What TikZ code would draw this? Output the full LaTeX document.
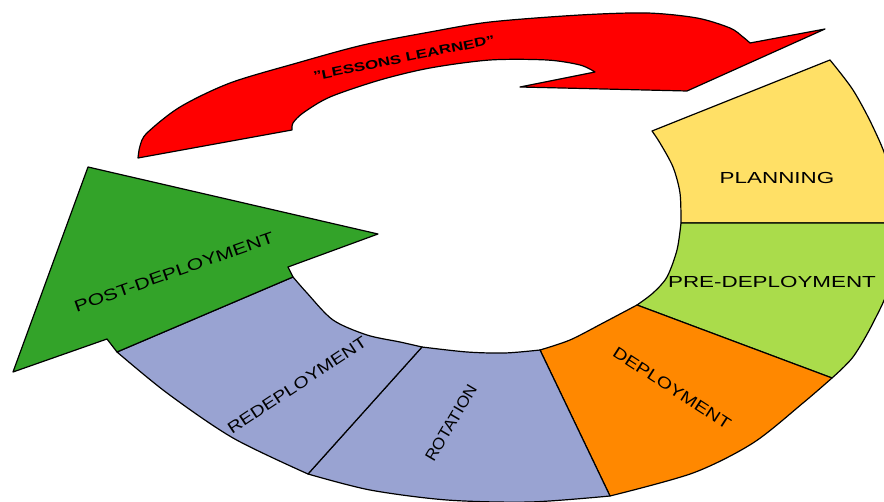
\documentclass[tikz,border=0pt]{standalone}
\usepackage{fontspec}
\setmainfont{Liberation Sans}

\definecolor{plancol}{RGB}{255,224,102}
\definecolor{precol}{RGB}{170,220,75}
\definecolor{depcol}{RGB}{255,136,0}
\definecolor{rotcol}{RGB}{153,163,210}
\definecolor{postcol}{RGB}{51,163,41}
\definecolor{lesscol}{RGB}{255,0,0}

\begin{document}
\begin{tikzpicture}[x=1pt, y=-1pt,
    seg/.style={draw=black, line width=1.2pt, line join=round},
    lbl/.style={font=\fontsize{16}{18}\selectfont, inner sep=0pt}]

\useasboundingbox (0,0) rectangle (884,502);
\clip (0,0) rectangle (884,502);

% lessons learned arrow
\path[seg, fill=lesscol] plot[smooth] coordinates {(138,158) (140,146) (147,133) (180,107) (230,83) (297,63) (363,45) (430,32) (490,22) (580,15) (647,13) (697,18) (730,28) (743,37) (750,43)}
  -- (825,29) -- (687,91) -- (520,87) -- (595,72)
  -- plot[smooth] coordinates {(595,72) (580,65) (547,60) (490,60) (430,68) (380,80) (330,97) (303,113) (293,123) (292,130)}
  -- cycle;

% ring
\path[seg, fill=plancol] (652,131)
  -- plot[smooth] coordinates {(830,60) (853,90) (873,127) (888,165) (895,223)}
  -- plot[smooth] coordinates {(681,223) (680,193) (673,167) (660,143) (652,131)} -- cycle;
\path[seg, fill=precol] plot[smooth] coordinates {(681,223) (677,250) (667,277) (653,293) (637,305)}
  -- plot[smooth] coordinates {(832,378) (853,357) (873,323) (890,283) (895,223)} -- cycle;
\path[seg, fill=depcol] plot[smooth] coordinates {(637,305) (603,323) (570,340) (540,350)}
  -- plot[smooth] coordinates {(610,496) (693,473) (753,443) (803,403) (832,378)} -- cycle;
\path[seg, fill=rotcol] plot[smooth] coordinates {(540,350) (505,353) (467,352) (422,347)}
  -- plot[smooth] coordinates {(308,474) (370,490) (447,500) (530,502) (610,496)} -- cycle;
\path[seg, fill=rotcol] plot[smooth] coordinates {(422,347) (400,342) (367,335) (333,320) (307,293) (293,277)}
  -- plot[smooth] coordinates {(117,352) (167,393) (233,438) (308,474)} -- cycle;

% post-deployment arrow head
\path[seg, fill=postcol] (117,352) -- (107,339) -- (13,372) -- (88,167) -- (378,234) -- (288,267) -- (293,277) -- cycle;

\node[lbl, xscale=1.4] (plan) at (777,178) {PLANNING};
\node[lbl, xscale=1.4] (pre) at (772,282) {PRE-DEPLOYMENT};
\node[lbl, rotate=-32.8, xscale=1.24] (dep) at (672,388) {DEPLOYMENT};
\node[lbl, rotate=59.5, xscale=1.07] (rot) at (451,423) {ROTATION};
\node[lbl, rotate=33.4, xscale=1.23] (redep) at (297,385) {REDEPLOYMENT};
\node[lbl, rotate=19.5, xscale=1.33] (post) at (174,272) {POST-DEPLOYMENT};
\node[lbl, font=\bfseries\fontsize{12.4}{14}\selectfont, rotate=11.6, xscale=1.37] (lessons) at (404,58) {"LESSONS LEARNED"};

\end{tikzpicture}
\end{document}
